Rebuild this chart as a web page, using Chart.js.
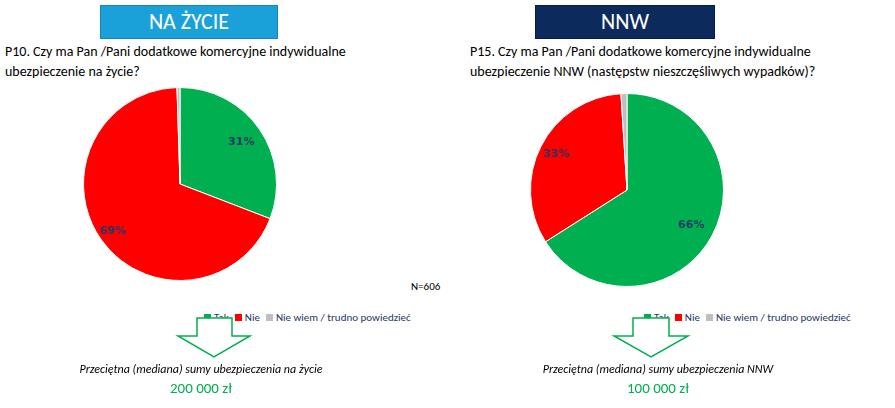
<!DOCTYPE html>
<html><head><meta charset="utf-8">
<script src="https://cdn.jsdelivr.net/npm/chart.js@4/dist/chart.umd.min.js"></script>
<style>
body{margin:0;width:895px;height:408px;background:#fff;font-family:Calibri,"Liberation Sans",Arial,sans-serif;position:relative;overflow:hidden}
.abs{position:absolute}
.box{color:#fff;font-size:22px;text-align:center;line-height:32px;height:32px}
.q{font-size:14px;color:#000;line-height:20px}
.leg{font-size:11px;color:#1f3864;white-space:nowrap}
.leg span.s{display:inline-block;width:7px;height:7px;margin:0 3px 0 6px}
.it{font-style:italic;font-size:12px;color:#000;text-align:center;width:320px}
.val{color:#00b050;font-size:15px;text-align:center;width:200px}
</style></head><body>
<div class="abs box" style="left:100px;top:5px;width:176px;background:#1ba1d9;border:1px solid #1586b8">NA ŻYCIE</div>
<div class="abs box" style="left:535px;top:5px;width:178px;background:#0c2b5c;border:1px solid #071d40">NNW</div>
<div class="abs q" style="left:5px;top:42px;width:420px">P10. Czy ma Pan /Pani dodatkowe komercyjne indywidualne<br>ubezpieczenie na życie?</div>
<div class="abs q" style="left:470px;top:42px;width:425px">P15. Czy ma Pan /Pani dodatkowe komercyjne indywidualne<br>ubezpieczenie NNW (następstw nieszczęśliwych wypadków)?</div>
<div class="abs" style="left:83px;top:87px;width:194px;height:194px"><canvas id="c1"></canvas></div>
<div class="abs" style="left:530px;top:93px;width:194px;height:194px"><canvas id="c2"></canvas></div>
<div class="abs" style="left:411px;top:280px;font-size:11px">N=606</div>
<div class="abs leg" id="l1" style="left:198px;top:311px"></div>
<div class="abs leg" id="l2" style="left:638px;top:311px"></div>
<svg class="abs" style="left:0;top:0" width="895" height="408">
<polygon points="197,318 232,318 232,336 250,336 214,357 178,336 197,336" fill="#fff" stroke="#00b050" stroke-width="1.5"/>
<polygon points="633,318 669,318 669,336 688,336 651,357 614,336 633,336" fill="#fff" stroke="#00b050" stroke-width="1.5"/>
</svg>
<div class="abs it" style="left:41px;top:362px">Przeciętna (mediana) sumy ubezpieczenia na życie</div>
<div class="abs val" style="left:101px;top:379px">200 000 zł</div>
<div class="abs it" style="left:498px;top:362px">Przeciętna (mediana) sumy ubezpieczenia NNW</div>
<div class="abs val" style="left:558px;top:379px">100 000 zł</div>
<script>
const categories=["Tak","Nie","Nie wiem / trudno powiedzieć"];
const zycieValues=[31,69,0.5];
const zycieLabels=["31%","69%",""];
const nnwValues=[66,33,1];
const nnwLabels=["66%","33%","1%"];
const colors=["#00b050","#ff0000","#bfbfbf"];
for(const id of ["l1","l2"]){document.getElementById(id).innerHTML=categories.map((c,i)=>`<span class="s" style="background:${colors[i]}"></span>${c}`).join("");}
const lbl={id:"lbl",afterDatasetsDraw(ch){const ctx=ch.ctx;const labels=ch.options.plugins.lbl.labels;const f=ch.options.plugins.lbl.f;
ch.getDatasetMeta(0).data.forEach((a,i)=>{if(!labels[i])return;const m=(a.startAngle+a.endAngle)/2;const r=a.outerRadius*f[i];
ctx.save();ctx.font="bold 11px 'DejaVu Sans',sans-serif";ctx.fillStyle="#1f3864";ctx.textAlign="center";ctx.textBaseline="middle";
ctx.fillText(labels[i],a.x+Math.cos(m)*r,a.y+Math.sin(m)*r);ctx.restore();});}};
function mk(id,vals,labels,f){new Chart(document.getElementById(id),{type:"pie",data:{labels:categories,datasets:[{data:vals,backgroundColor:colors,borderColor:"#fff",borderWidth:1}]},
options:{responsive:true,maintainAspectRatio:false,animation:false,layout:{padding:0},plugins:{legend:{display:false},tooltip:{enabled:false},lbl:{labels,f}}},plugins:[lbl]});}
mk("c1",zycieValues,zycieLabels,[0.77,0.85,0]);
mk("c2",nnwValues,nnwLabels,[0.76,0.82,1.09]);
</script></body></html>
